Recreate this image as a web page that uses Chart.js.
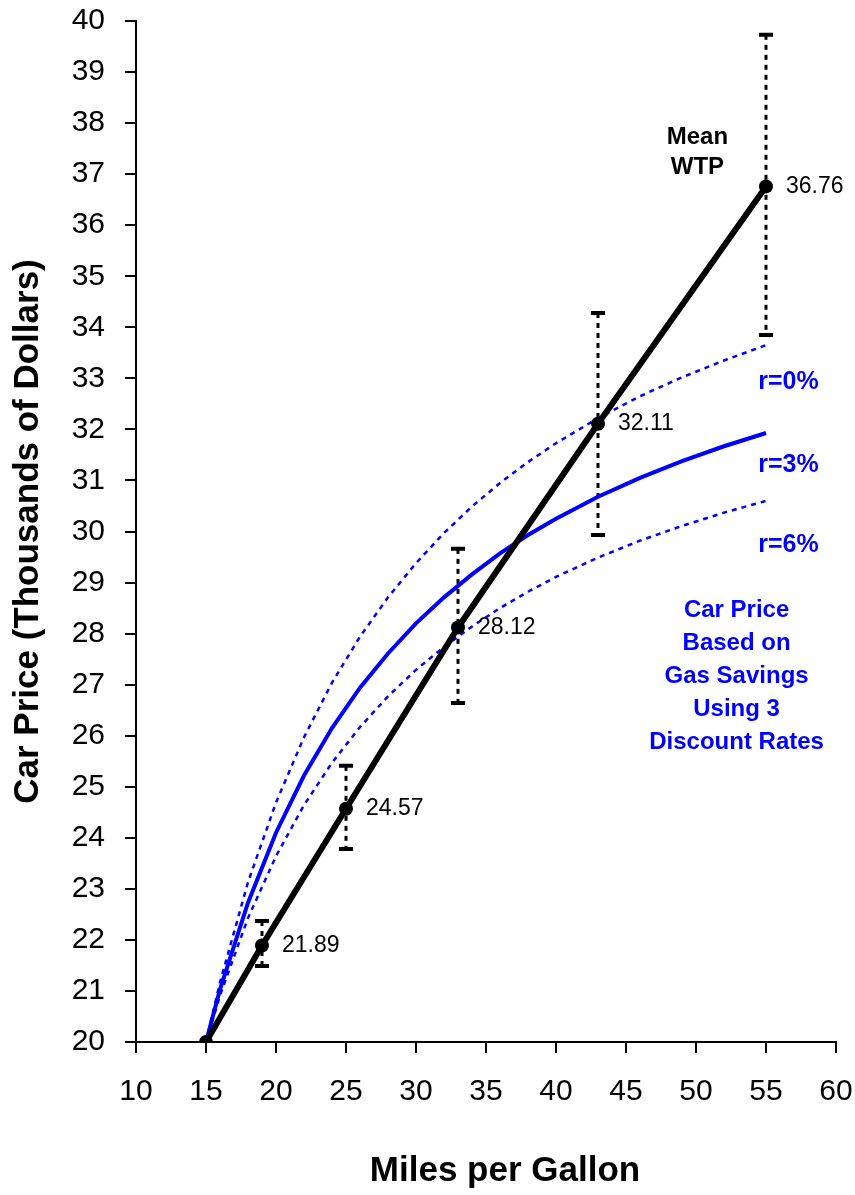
<!DOCTYPE html>
<html>
<head>
<title>Car Price vs Miles per Gallon</title>
<script src="https://cdn.jsdelivr.net/npm/chart.js"></script>
<style>
  html, body { margin: 0; padding: 0; background: #fff; }
</style>
</head>
<body>
<canvas id="mpgChart" width="855" height="1195"></canvas>
<script>
// Mean WTP with its error bars
var wtpMpg = [15, 19, 25, 33, 43, 55];
var wtpPrice = [20, 21.89, 24.57, 28.12, 32.11, 36.76];
var wtpLow = [null, 21.49, 23.78, 26.64, 29.93, 33.85];
var wtpHigh = [null, 22.37, 25.41, 29.66, 34.28, 39.73];

// car price from gas savings, three discount rates
var curveMpg = [15, 16, 18, 20, 22, 24, 26, 28, 30, 32, 34, 36, 38, 40, 43, 46, 49, 52, 55];
var price0 = [20, 21.17, 23.13, 24.69, 25.97, 27.04, 27.94, 28.71, 29.38, 29.97, 30.49, 30.95, 31.36, 31.73, 32.22, 32.65, 33.02, 33.35, 33.65];
var price3 = [20, 21.03, 22.73, 24.10, 25.22, 26.15, 26.94, 27.61, 28.20, 28.71, 29.16, 29.57, 29.93, 30.25, 30.68, 31.05, 31.38, 31.67, 31.93];
var price6 = [20, 20.91, 22.43, 23.64, 24.64, 25.47, 26.17, 26.77, 27.29, 27.74, 28.14, 28.50, 28.82, 29.11, 29.49, 29.82, 30.11, 30.37, 30.60];

var FONT = "'Liberation Sans', Arial, sans-serif";
var BLUE = '#0000ff';

function pts(xs, ys) {
    var out = [];
    for (var i = 0; i < xs.length; i++) out.push({ x: xs[i], y: ys[i] });
    return out;
}

// dotted error bars with caps, drawn under the WTP line
var errorBars = {
    id: 'errorBars',
    beforeDatasetsDraw: function (chart) {
        var ctx = chart.ctx, xs = chart.scales.x, ys = chart.scales.y;
        ctx.save();
        ctx.strokeStyle = '#000';
        for (var i = 0; i < wtpMpg.length; i++) {
            if (wtpLow[i] === null) continue;
            var px = xs.getPixelForValue(wtpMpg[i]);
            var lo = ys.getPixelForValue(wtpLow[i]);
            var hi = ys.getPixelForValue(wtpHigh[i]);
            ctx.lineWidth = 3;
            ctx.setLineDash([5, 5]);
            ctx.beginPath();
            ctx.moveTo(px, hi);
            ctx.lineTo(px, lo);
            ctx.stroke();
            ctx.setLineDash([]);
            ctx.lineWidth = 4;
            ctx.beginPath();
            ctx.moveTo(px - 7, hi); ctx.lineTo(px + 7, hi);
            ctx.moveTo(px - 7, lo); ctx.lineTo(px + 7, lo);
            ctx.stroke();
        }
        ctx.restore();
    }
};

// value labels and the text notes on the chart
var notes = {
    id: 'notes',
    afterDatasetsDraw: function (chart) {
        var ctx = chart.ctx, xs = chart.scales.x, ys = chart.scales.y;
        ctx.save();
        ctx.fillStyle = '#000';
        ctx.font = '23px ' + FONT;
        ctx.textAlign = 'left';
        ctx.textBaseline = 'middle';
        for (var i = 1; i < wtpMpg.length; i++) {
            ctx.fillText(wtpPrice[i].toFixed(2), xs.getPixelForValue(wtpMpg[i]) + 20, ys.getPixelForValue(wtpPrice[i]));
        }

        ctx.textAlign = 'center';
        ctx.font = 'bold 24px ' + FONT;
        ctx.fillText('Mean', xs.getPixelForValue(50.1), ys.getPixelForValue(37.73));
        ctx.fillText('WTP', xs.getPixelForValue(50.1), ys.getPixelForValue(37.14));

        ctx.fillStyle = BLUE;
        ctx.font = 'bold 25px ' + FONT;
        ctx.fillText('r=0%', xs.getPixelForValue(56.6), ys.getPixelForValue(32.93));
        ctx.fillText('r=3%', xs.getPixelForValue(56.6), ys.getPixelForValue(31.30));
        ctx.fillText('r=6%', xs.getPixelForValue(56.6), ys.getPixelForValue(29.74));

        ctx.font = 'bold 24px ' + FONT;
        var block = ['Car Price', 'Based on', 'Gas Savings', 'Using 3', 'Discount Rates'];
        for (var j = 0; j < block.length; j++) {
            ctx.fillText(block[j], xs.getPixelForValue(52.9), ys.getPixelForValue(28.46) + j * 33);
        }

        // x axis title
        ctx.fillStyle = '#000';
        ctx.font = 'bold 35px ' + FONT;
        ctx.fillText('Miles per Gallon', 505, 1171);
        ctx.restore();
    }
};

new Chart(document.getElementById('mpgChart').getContext('2d'), {
    type: 'line',
    data: {
        datasets: [
            {
                label: 'Mean WTP',
                data: pts(wtpMpg, wtpPrice),
                borderColor: '#000',
                backgroundColor: '#000',
                borderWidth: 6,
                pointRadius: 7,
                pointBorderWidth: 0,
                fill: false
            },
            {
                label: 'r=0%',
                data: pts(curveMpg, price0),
                borderColor: BLUE,
                borderWidth: 2.5,
                borderDash: [5, 5],
                pointRadius: 0,
                fill: false
            },
            {
                label: 'r=3%',
                data: pts(curveMpg, price3),
                borderColor: BLUE,
                borderWidth: 4,
                pointRadius: 0,
                fill: false
            },
            {
                label: 'r=6%',
                data: pts(curveMpg, price6),
                borderColor: BLUE,
                borderWidth: 2.5,
                borderDash: [5, 5],
                pointRadius: 0,
                fill: false
            }
        ]
    },
    options: {
        responsive: false,
        animation: false,
        devicePixelRatio: 1,
        layout: { padding: { top: 21, right: 19, left: 0, bottom: 0 } },
        plugins: {
            legend: { display: false },
            tooltip: { enabled: false }
        },
        scales: {
            x: {
                type: 'linear',
                min: 10,
                max: 60,
                ticks: { stepSize: 5, color: '#000', font: { family: FONT, size: 30 }, padding: 21 },
                grid: { drawOnChartArea: false, drawTicks: true, tickLength: 11, color: '#000', lineWidth: 2 },
                border: { color: '#000', width: 2 },
                afterFit: function (s) {
                    s.height = 153;
                    s.paddingLeft = 0;
                    s.paddingRight = 0;
                }
            },
            y: {
                min: 20,
                max: 40,
                ticks: { stepSize: 1, color: '#000', font: { family: FONT, size: 30 }, padding: 20 },
                grid: { drawOnChartArea: false, drawTicks: true, tickLength: 11, color: '#000', lineWidth: 2 },
                border: { color: '#000', width: 2 },
                title: {
                    display: true,
                    text: 'Car Price (Thousands of Dollars)',
                    color: '#000',
                    font: { family: FONT, size: 35, weight: 'bold' },
                    padding: { top: 7, bottom: 0 }
                },
                afterFit: function (s) {
                    s.width = 136;
                    s.paddingTop = 0;
                    s.paddingBottom = 0;
                }
            }
        }
    },
    plugins: [errorBars, notes]
});
</script>
</body>
</html>
